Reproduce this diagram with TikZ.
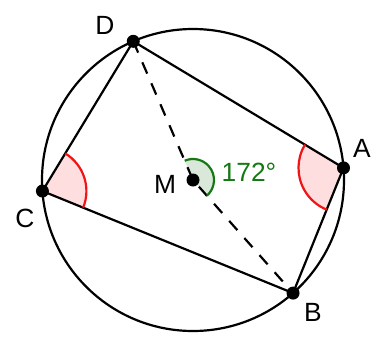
\documentclass[tikz,border=0pt]{standalone}
\usepackage{fontspec}
\setmainfont{Liberation Sans}
\usetikzlibrary{angles,calc}
\tikzset{every picture/.append style={thick}}
\definecolor{angRed}{RGB}{240,20,20}
\definecolor{angRedFill}{RGB}{255,222,224}
\definecolor{angGreen}{RGB}{20,120,20}
\definecolor{angGreenFill}{RGB}{218,232,218}
\tikzset{
    ptlabel/.style={font=\fontsize{15}{17}\selectfont},
    pt/.style={fill=black},
}

\begin{document}
\begin{tikzpicture}
    \useasboundingbox (-3.86,-3.12) rectangle (3.62,3.60);

    % Points on the circle
    \coordinate (M) at (0,0);
    \coordinate (D) at (113.3:3.02);
    \coordinate (A) at (4.6:3.02);
    \coordinate (B) at (-48.5:3.02);
    \coordinate (C) at (184.2:3.02);

    % Angle fills
    \pic[fill=angRedFill, angle radius=0.88cm] {angle=B--C--D};
    \pic[fill=angRedFill, angle radius=0.90cm] {angle=D--A--B};
    \pic[fill=angGreenFill, angle radius=0.42cm] {angle=B--M--D};

    % Circle and quadrilateral
    \draw[line width=1.25pt] (M) circle (3.02);
    \draw[line width=1.25pt] (A) -- (B) -- (C) -- (D) -- cycle;
    \draw[line width=1.25pt, dash pattern=on 7pt off 6pt] (D) -- (M) -- (B);

    % Angle arcs
    \draw[angRed, line width=1.25pt] ($(C)+(-22.1:0.88)$) arc[start angle=-22.1, end angle=58.8, radius=0.88];
    \draw[angRed, line width=1.25pt] ($(A)+(148.8:0.90)$) arc[start angle=148.8, end angle=248.2, radius=0.90];
    \draw[angGreen, line width=1.25pt] ($(M)+(-48.5:0.42)$) arc[start angle=-48.5, end angle=113.3, radius=0.42];

    % Dots
    \foreach \p in {A,B,C,D,M} {
        \fill[pt] (\p) circle (0.13);
    }

    % Labels
    \node[ptlabel] (lblD) at (-1.76,3.10) {D};
    \node[ptlabel] (lblA) at (3.38,0.64) {A};
    \node[ptlabel] (lblB) at (2.40,-2.64) {B};
    \node[ptlabel] (lblC) at (-3.36,-0.76) {C};
    \node[ptlabel] (lblM) at (-0.56,-0.08) {M};
    \node[ptlabel, text=angGreen] (lblAng) at (1.12,0.16) {172°};
\end{tikzpicture}
\end{document}
